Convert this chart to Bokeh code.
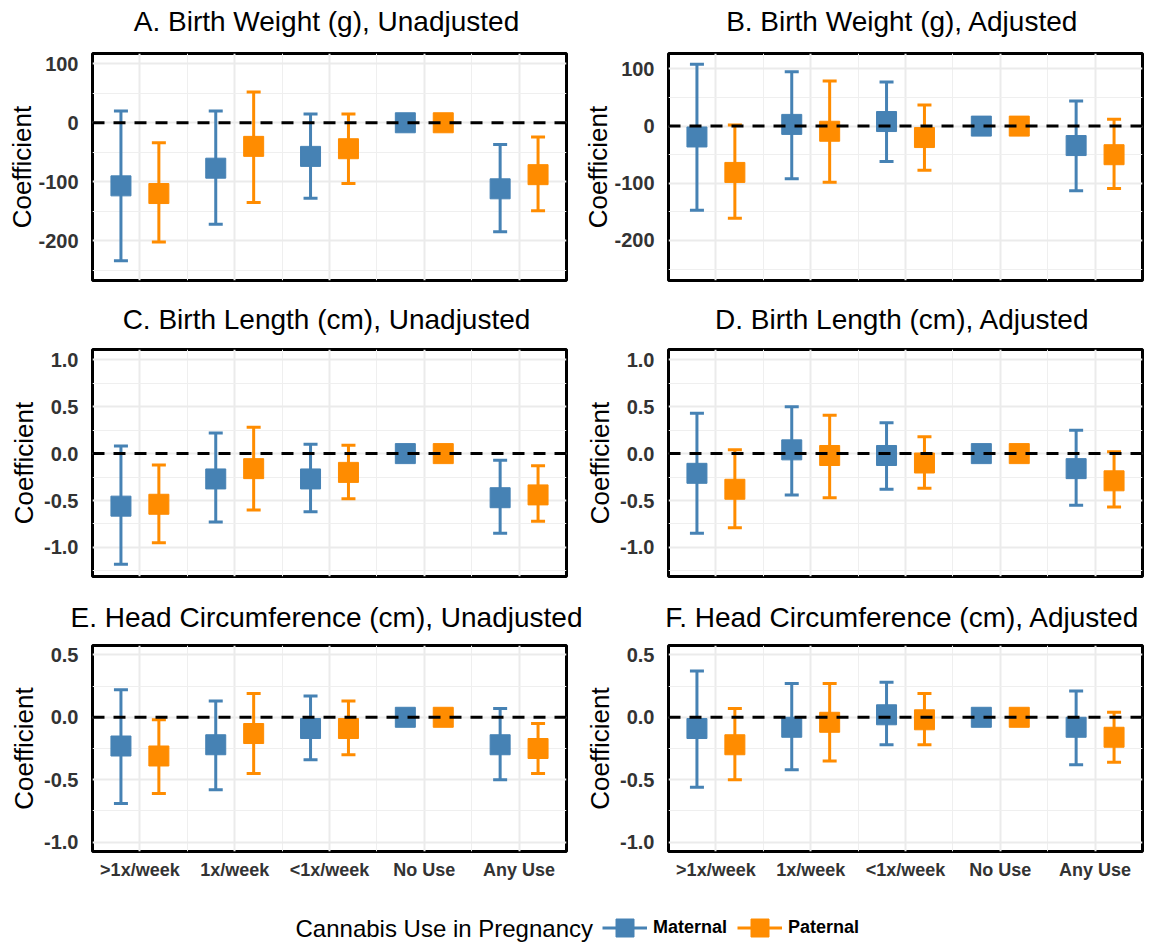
from bokeh.plotting import figure
from bokeh.models import (ColumnDataSource, Range1d, FixedTicker, Whisker, TeeHead, Span,
                          Legend, LegendItem, NumeralTickFormatter, Label)
from bokeh.layouts import column, row
from bokeh.transform import dodge
from bokeh.embed import file_html
from bokeh.resources import INLINE

FONT = "Liberation Sans"
MAT_COLOR = "#4682B4"
PAT_COLOR = "#FF8C00"

categories = [">1x/week", "1x/week", "<1x/week", "No Use", "Any Use"]

# Panel A: Birth Weight (g), Unadjusted
a_mat = [-107, -77, -57, 0, -112]
a_mat_lo = [-234, -172, -128, 0, -185]
a_mat_hi = [20, 20, 15, 0, -37]
a_pat = [-120, -40, -44, 0, -88]
a_pat_lo = [-202, -135, -103, 0, -149]
a_pat_hi = [-34, 52, 15, 0, -24]

# Panel B: Birth Weight (g), Adjusted
b_mat = [-19, 3, 8, 0, -34]
b_mat_lo = [-147, -92, -62, 0, -113]
b_mat_hi = [108, 95, 77, 0, 44]
b_pat = [-81, -9, -20, 0, -50]
b_pat_lo = [-161, -98, -77, 0, -109]
b_pat_hi = [2, 79, 37, 0, 12]

# Panel C: Birth Length (cm), Unadjusted
c_mat = [-0.56, -0.27, -0.27, 0, -0.47]
c_mat_lo = [-1.18, -0.73, -0.62, 0, -0.85]
c_mat_hi = [0.08, 0.22, 0.10, 0, -0.07]
c_pat = [-0.54, -0.16, -0.20, 0, -0.44]
c_pat_lo = [-0.95, -0.60, -0.48, 0, -0.72]
c_pat_hi = [-0.12, 0.28, 0.09, 0, -0.13]

# Panel D: Birth Length (cm), Adjusted
d_mat = [-0.21, 0.04, -0.02, 0, -0.16]
d_mat_lo = [-0.85, -0.44, -0.38, 0, -0.55]
d_mat_hi = [0.43, 0.50, 0.33, 0, 0.25]
d_pat = [-0.38, -0.02, -0.10, 0, -0.29]
d_pat_lo = [-0.79, -0.47, -0.37, 0, -0.57]
d_pat_hi = [0.04, 0.41, 0.18, 0, 0.02]

# Panel E: Head Circumference (cm), Unadjusted
e_mat = [-0.23, -0.22, -0.09, 0, -0.22]
e_mat_lo = [-0.69, -0.58, -0.34, 0, -0.50]
e_mat_hi = [0.22, 0.13, 0.17, 0, 0.07]
e_pat = [-0.31, -0.13, -0.09, 0, -0.25]
e_pat_lo = [-0.61, -0.45, -0.30, 0, -0.45]
e_pat_hi = [-0.02, 0.19, 0.13, 0, -0.05]

# Panel F: Head Circumference (cm), Adjusted
f_mat = [-0.09, -0.08, 0.02, 0, -0.08]
f_mat_lo = [-0.56, -0.42, -0.22, 0, -0.38]
f_mat_hi = [0.37, 0.27, 0.28, 0, 0.21]
f_pat = [-0.22, -0.04, -0.02, 0, -0.16]
f_pat_lo = [-0.50, -0.35, -0.22, 0, -0.36]
f_pat_hi = [0.07, 0.27, 0.19, 0, 0.04]

titles = ["A. Birth Weight (g), Unadjusted", "B. Birth Weight (g), Adjusted",
          "C. Birth Length (cm), Unadjusted", "D. Birth Length (cm), Adjusted",
          "E. Head Circumference (cm), Unadjusted", "F. Head Circumference (cm), Adjusted"]

x_pos = list(range(1, len(categories) + 1))
x_minor = [v + 0.5 for v in x_pos[:-1]]

wt_ticks = [-200, -100, 0, 100]
wt_minor = [-250, -150, -50, 50]
len_ticks = [-1.0, -0.5, 0.0, 0.5, 1.0]
len_minor = [-1.25, -0.75, -0.25, 0.25, 0.75]
hc_ticks = [-1.0, -0.5, 0.0, 0.5]
hc_minor = [-0.75, -0.25, 0.25]

FRAME_W = 474
TOTAL_W = 1151


def strip(height):
    s = figure(width=TOTAL_W, height=height, x_range=Range1d(0, 1), y_range=Range1d(0, 1),
               output_backend="svg", toolbar_location=None, min_border=0,
               x_axis_type=None, y_axis_type=None)
    s.outline_line_color = None
    s.background_fill_color = "white"
    s.border_fill_color = "white"
    s.grid.visible = False
    return s


def title_strip(left_title, right_title, height, middle_from_bottom):
    s = strip(height)
    for tx, txt in ((326, left_title), (902, right_title)):
        s.add_layout(Label(x=tx, y=middle_from_bottom, x_units="screen", y_units="screen",
                           text=txt, text_align="center", text_baseline="middle",
                           text_font=FONT, text_font_size="28px", text_color="black"))
    return s


def make_panel(mat, mat_lo, mat_hi, pat, pat_lo, pat_hi, yr, yticks, yminor, fmt,
               width, bl, height, bb, show_x, lab_standoff):
    p = figure(width=width, height=height, x_range=Range1d(0.5, 5.5), y_range=Range1d(*yr),
               output_backend="svg", toolbar_location=None,
               min_border_left=bl, min_border_right=width - bl - FRAME_W,
               min_border_top=2, min_border_bottom=bb)
    p.background_fill_color = "white"
    p.border_fill_color = "white"
    p.outline_line_color = "black"
    p.outline_line_width = 3

    # axes
    p.xaxis.ticker = FixedTicker(ticks=x_pos, minor_ticks=x_minor)
    p.xaxis.major_label_overrides = {x: c for x, c in zip(x_pos, categories)}
    p.yaxis.ticker = FixedTicker(ticks=yticks, minor_ticks=yminor)
    p.yaxis.formatter = NumeralTickFormatter(format=fmt)
    for ax in (p.xaxis, p.yaxis):
        ax.axis_line_color = None
        ax.major_tick_line_color = None
        ax.minor_tick_line_color = None
        ax.major_tick_out = 0
        ax.major_tick_in = 0
        ax.major_label_text_font = FONT
        ax.major_label_text_font_style = "bold"
        ax.major_label_text_color = "#333333"
    p.xaxis.major_label_text_font_size = "18px"
    p.yaxis.major_label_text_font_size = "20px"
    p.yaxis.major_label_standoff = 10
    p.xaxis.major_label_standoff = 4
    p.yaxis.axis_label = "Coefficient"
    p.yaxis.axis_label_text_font = FONT
    p.yaxis.axis_label_text_font_size = "26px"
    p.yaxis.axis_label_text_font_style = "normal"
    p.yaxis.axis_label_text_color = "black"
    p.yaxis.axis_label_standoff = lab_standoff
    p.xaxis.visible = show_x

    # grids
    for g in (p.xgrid, p.ygrid):
        g.grid_line_color = "#EBEBEB"
        g.grid_line_width = 2
        g.minor_grid_line_color = "#EFEFEF"
        g.minor_grid_line_width = 1

    for vals, lo, hi, off, col in ((mat, mat_lo, mat_hi, -0.2, MAT_COLOR),
                                   (pat, pat_lo, pat_hi, 0.2, PAT_COLOR)):
        src = ColumnDataSource(data=dict(x=x_pos, y=vals, lower=lo, upper=hi))
        w = Whisker(base=dodge("x", off), upper="upper", lower="lower", source=src,
                    line_color=col, line_width=3, level="underlay",
                    upper_head=TeeHead(size=14, line_color=col, line_width=3),
                    lower_head=TeeHead(size=14, line_color=col, line_width=3))
        p.add_layout(w)
        p.scatter(x=dodge("x", off), y="y", source=src, marker="square", size=20,
                  fill_color=col, line_color=col, line_width=1)

    p.add_layout(Span(location=0, dimension="width", line_color="black", line_width=3,
                      line_dash="12 9"))
    return p


LW, RW = 575, 576
pA = make_panel(a_mat, a_mat_lo, a_mat_hi, a_pat, a_pat_lo, a_pat_hi,
                (-267.5, 117.5), wt_ticks, wt_minor, "0", LW, 92, 246, 17, False, -2)
pB = make_panel(b_mat, b_mat_lo, b_mat_hi, b_pat, b_pat_lo, b_pat_hi,
                (-270, 127), wt_ticks, wt_minor, "0", RW, 93, 246, 17, False, -2)
pC = make_panel(c_mat, c_mat_lo, c_mat_hi, c_pat, c_pat_lo, c_pat_hi,
                (-1.31, 1.11), len_ticks, len_minor, "0.0", LW, 92, 246, 17, False, 2)
pD = make_panel(d_mat, d_mat_lo, d_mat_hi, d_pat, d_pat_lo, d_pat_hi,
                (-1.31, 1.11), len_ticks, len_minor, "0.0", RW, 93, 246, 17, False, 2)
pE = make_panel(e_mat, e_mat_lo, e_mat_hi, e_pat, e_pat_lo, e_pat_hi,
                (-1.075, 0.575), hc_ticks, hc_minor, "0.0", LW, 92, 239, 31, True, 2)
pF = make_panel(f_mat, f_mat_lo, f_mat_hi, f_pat, f_pat_lo, f_pat_hi,
                (-1.075, 0.575), hc_ticks, hc_minor, "0.0", RW, 93, 239, 31, True, 2)

t1 = title_strip(titles[0], titles[1], 51, 30)
t2 = title_strip(titles[2], titles[3], 50, 28.5)
t3 = title_strip(titles[4], titles[5], 50, 26.5)

# legend strip
lg = strip(60)
nan = float("nan")
key_m = ColumnDataSource(data=dict(x=[nan], y=[nan]))
key_p = ColumnDataSource(data=dict(x=[nan], y=[nan]))
lm = lg.line("x", "y", source=key_m, line_color=MAT_COLOR, line_width=3)
sm = lg.scatter("x", "y", source=key_m, marker="square", fill_color=MAT_COLOR, line_color=MAT_COLOR)
lp = lg.line("x", "y", source=key_p, line_color=PAT_COLOR, line_width=3)
sp = lg.scatter("x", "y", source=key_p, marker="square", fill_color=PAT_COLOR, line_color=PAT_COLOR)
legend = Legend(items=[LegendItem(label="Maternal", renderers=[lm, sm]),
                       LegendItem(label="Paternal", renderers=[lp, sp])],
                orientation="horizontal", location=(602, -8),
                label_text_font=FONT, label_text_font_size="18px", label_text_font_style="bold",
                label_text_color="black", label_standoff=6,
                glyph_width=45, glyph_height=45, spacing=10, padding=0, margin=0,
                border_line_color=None, background_fill_color=None)
lg.add_layout(legend, "center")
lg.add_layout(Label(x=295, y=14, x_units="screen", y_units="screen", text="Cannabis Use in Pregnancy",
                    text_baseline="middle", text_align="left", text_font=FONT,
                    text_font_size="24px", text_color="black"))

layout = column(t1, row(pA, pB), t2, row(pC, pD), t3, row(pE, pF), lg)

open("out.html", "w").write(file_html(layout, INLINE))
